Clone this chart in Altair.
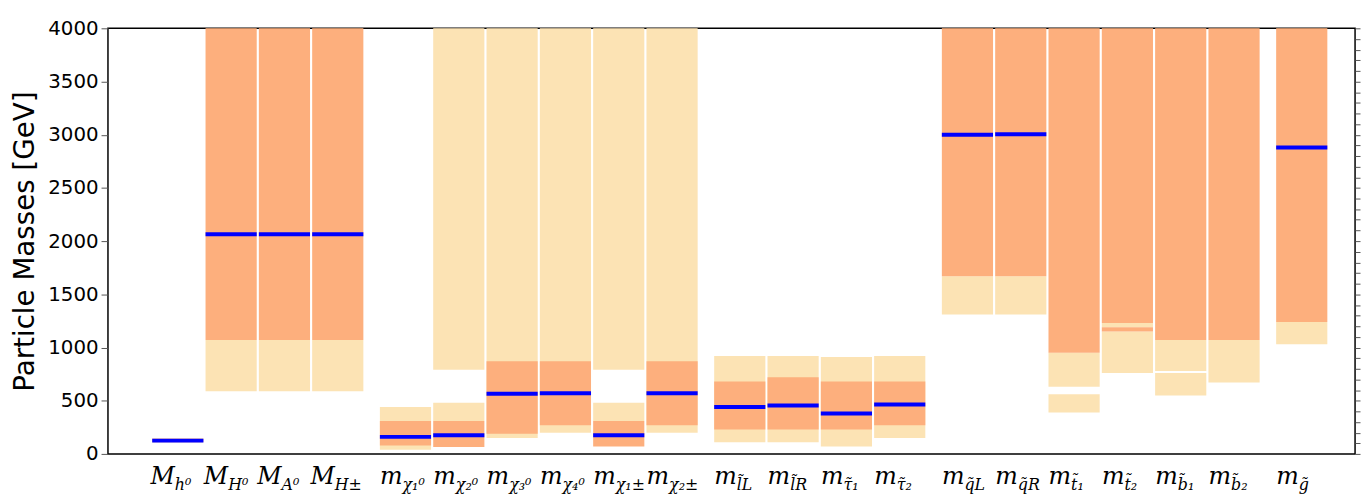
import pandas as pd
import altair as alt

# particle columns, group index (groups are drawn with a small gap between them)
mains = ["M", "M", "M", "M", "m", "m", "m", "m", "m", "m",
         "m", "m", "m", "m", "m", "m", "m", "m", "m", "m", "m"]
subs = ["h⁰", "H⁰", "A⁰", "H±", "χ₁⁰", "χ₂⁰", "χ₃⁰", "χ₄⁰", "χ₁±", "χ₂±",
        "l̃L", "l̃R", "τ̃₁", "τ̃₂", "q̃L", "q̃R", "t̃₁", "t̃₂", "b̃₁", "b̃₂", "g̃"]
groups = [0, 0, 0, 0, 1, 1, 1, 1, 1, 1, 2, 2, 2, 2, 3, 3, 3, 3, 3, 3, 4]

# allowed ranges per column: (lo, hi, kind) ; kind 1 = wide (light), 2 = narrow (orange)
ranges = [
    [(110, 145, 2)],
    [(590, 1070, 1), (1070, 4000, 2)],
    [(590, 1070, 1), (1070, 4000, 2)],
    [(590, 1070, 1), (1070, 4000, 2)],
    [(40, 440, 1), (80, 310, 2)],
    [(310, 480, 1), (790, 4000, 1), (65, 310, 2)],
    [(150, 4000, 1), (190, 870, 2)],
    [(200, 4000, 1), (270, 870, 2)],
    [(310, 480, 1), (790, 4000, 1), (70, 310, 2)],
    [(200, 4000, 1), (270, 870, 2)],
    [(110, 920, 1), (230, 680, 2)],
    [(110, 920, 1), (230, 720, 2)],
    [(70, 910, 1), (230, 680, 2)],
    [(150, 920, 1), (270, 680, 2)],
    [(1310, 1670, 1), (1670, 4000, 2)],
    [(1310, 1670, 1), (1670, 4000, 2)],
    [(390, 560, 1), (630, 950, 1), (950, 4000, 2)],
    [(760, 1150, 1), (1150, 1190, 2), (1190, 1230, 1), (1230, 4000, 2)],
    [(550, 760, 1), (780, 1070, 1), (1070, 4000, 2)],
    [(670, 1070, 1), (1070, 4000, 2)],
    [(1030, 1240, 1), (1240, 4000, 2)],
]
# best-fit masses (None = no line)
best = [125, 2065, 2065, 2065, 160, 175, 565, 570, 175, 570,
        440, 455, 380, 465, 3000, 3005, None, None, None, None, 2880]

major_ticks = list(range(0, 4001, 500))
minor_ticks = list(range(0, 4001, 100))

GAP = 0.27
left = [i + GAP * g for i, g in enumerate(groups)]
BW = 0.96

rows = []
for i, segs in enumerate(ranges):
    for lo, hi, kind in segs:
        rows.append({"x": left[i], "x2": left[i] + BW, "lo": lo, "hi": hi, "kind": kind})
seg_df = pd.DataFrame(rows).sort_values("kind")

best_df = pd.DataFrame([
    {"x": left[i], "x2": left[i] + BW, "m": b} for i, b in enumerate(best) if b is not None
])
lab_df = pd.DataFrame({"c": [l + BW / 2 for l in left], "main": mains, "sub": subs})

W, H = 1260, 430
xs = alt.Scale(domain=[-0.83, 22.56], nice=False, zero=False)
ys = alt.Scale(domain=[0, 4000], nice=False)

bars = alt.Chart(seg_df).mark_rect().encode(
    x=alt.X("x:Q", scale=xs, axis=None),
    x2="x2",
    y=alt.Y("lo:Q", scale=ys, title="Particle Masses [GeV]",
            axis=alt.Axis(values=major_ticks, format="d", labelOverlap=False,
                          labelFontSize=20, titleFontSize=28, titleFontWeight="normal",
                          labelFont="DejaVu Sans", titleFont="DejaVu Sans", labelColor="black",
                          titleColor="black", grid=False, domain=False, tickColor="#555",
                          tickSize=7, labelPadding=3, titlePadding=8)),
    y2="hi",
    color=alt.Color("kind:O", scale=alt.Scale(domain=[1, 2], range=["#fce3b4", "#fdaf7d"]), legend=None),
)

lines = alt.Chart(best_df).mark_rule(color="#0000ff", strokeWidth=4).encode(
    x=alt.X("x:Q", scale=xs), x2="x2",
    y=alt.Y("m:Q", scale=ys, title=None,
            axis=alt.Axis(orient="right", values=minor_ticks, labels=False, grid=False,
                          domain=False, tickColor="#555", tickSize=5))
)

main_txt = alt.Chart(lab_df).mark_text(
    align="right", baseline="alphabetic", font="DejaVu Serif", fontStyle="italic", fontSize=24, dx=-3
).encode(x=alt.X("c:Q", scale=xs), y=alt.value(H + 30), text="main:N")

sub_txt = alt.Chart(lab_df).mark_text(
    align="left", baseline="alphabetic", font="DejaVu Serif", fontStyle="italic", fontSize=16, dx=-3
).encode(x=alt.X("c:Q", scale=xs), y=alt.value(H + 36), text="sub:N")

chart = (bars + lines + main_txt + sub_txt).resolve_scale(y="independent").properties(
    width=W, height=H, padding={"left": 4, "top": 8, "right": 0, "bottom": 0}
).configure_view(stroke="black", strokeWidth=1.5)

chart.save("out.html", embed_options={"renderer": "svg", "actions": False})
